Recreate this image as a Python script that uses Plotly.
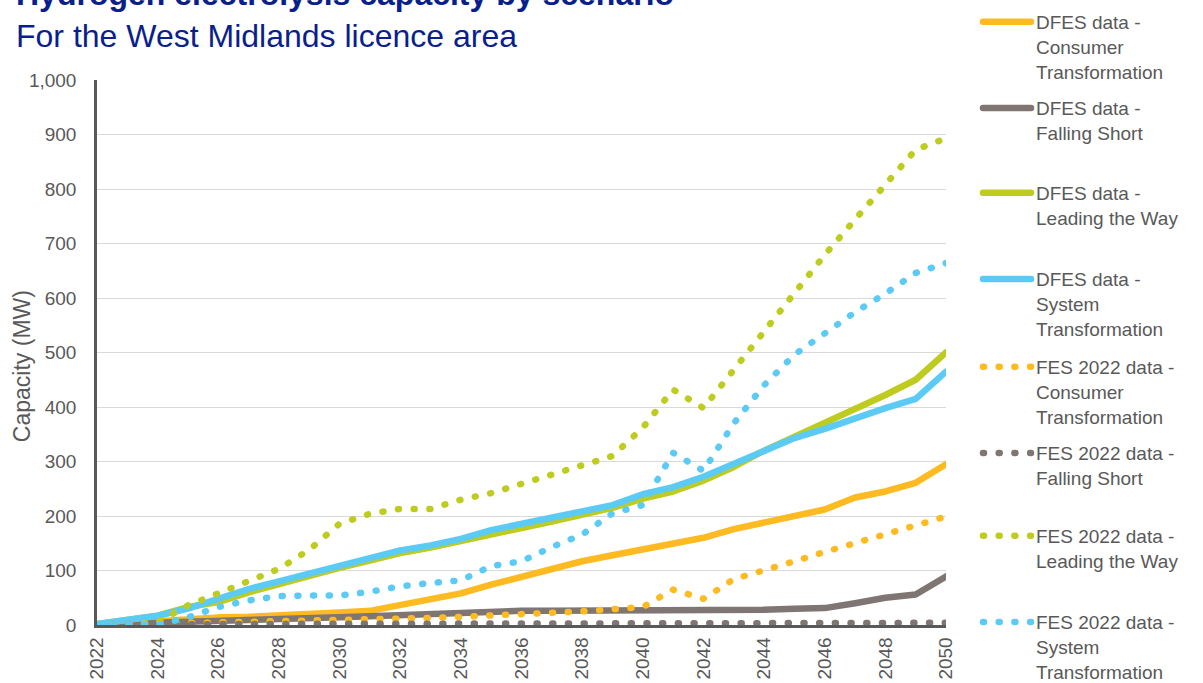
import plotly.graph_objects as go

years = list(range(2022, 2051))

dfes_consumer = [0, 4, 8, 12, 14, 15, 17, 20, 23, 26, 36, 46, 58, 74, 89, 101, 117, 128, 139, 150, 160, 176, 188, 200, 212, 234, 245, 261, 295]
dfes_falling = [0, 1, 4, 6, 7, 8, 10, 12, 14, 16, 18, 20, 22, 25, 26, 26, 26, 26, 27, 27, 27, 27, 28, 30, 31, 40, 50, 56, 89]
dfes_leading = [2, 8, 17, 33, 42, 60, 75, 92, 105, 118, 132, 142, 155, 166, 178, 190, 203, 215, 232, 245, 265, 290, 320, 345, 372, 398, 422, 450, 500]
dfes_system = [2, 9, 17, 30, 48, 66, 80, 95, 109, 125, 137, 146, 158, 174, 185, 197, 210, 220, 240, 253, 272, 296, 322, 343, 360, 380, 398, 415, 465]

fes_consumer = [0, 1, 2, 4, 6, 7, 8, 9, 10, 11, 12, 13, 15, 17, 20, 21, 25, 29, 33, 65, 48, 84, 102, 117, 134, 150, 167, 184, 199]
fes_falling = [0, 1, 1, 2, 2, 2, 2, 2, 3, 3, 3, 3, 3, 3, 3, 3, 3, 3, 3, 3, 3, 3, 3, 3, 3, 3, 3, 3, 4]
fes_leading = [0, 0, 5, 36, 58, 81, 103, 138, 186, 204, 213, 213, 230, 242, 259, 277, 293, 310, 362, 432, 398, 468, 540, 606, 679, 744, 806, 872, 893]
fes_system = [0, 0, 0, 14, 33, 45, 53, 54, 54, 61, 71, 77, 82, 108, 117, 143, 166, 205, 220, 316, 283, 370, 440, 496, 534, 574, 608, 646, 664]

names = [
    "DFES data -<br>Consumer<br>Transformation",
    "DFES data -<br>Falling Short<br>&nbsp;",
    "DFES data -<br>Leading the Way<br>&nbsp;",
    "DFES data -<br>System<br>Transformation",
    "FES 2022 data -<br>Consumer<br>Transformation",
    "FES 2022 data -<br>Falling Short<br>&nbsp;",
    "FES 2022 data -<br>Leading the Way<br>&nbsp;",
    "FES 2022 data -<br>System<br>Transformation",
]
series = [dfes_consumer, dfes_falling, dfes_leading, dfes_system,
          fes_consumer, fes_falling, fes_leading, fes_system]
colors = ["#FDBA21", "#7F7572", "#BDCC1E", "#5BCBF5",
          "#FDBA21", "#7F7572", "#BDCC1E", "#5BCBF5"]
dashes = ["solid"] * 4 + ["1px,14.7px"] * 4
legend_ids = ["legend", "legend", "legend2", "legend2",
              "legend3", "legend3", "legend4", "legend4"]

FONT = "Arial, Liberation Sans, sans-serif"
GREY = "#595959"
NAVY = "#0A1E8C"

fig = go.Figure()
for i, (nm, ys, c, d, lg) in enumerate(zip(names, series, colors, dashes, legend_ids)):
    fig.add_trace(go.Scatter(
        x=years, y=ys, name=nm, mode="lines",
        line=dict(color=c, width=6.5, dash=d),
        legendgroup=f"g{i}", legend=lg, hoverinfo="skip",
    ))

PLOT_TOP, PLOT_H = 80, 545


def legend_cfg(top_px):
    return dict(
        xref="paper", yref="paper",
        x=(978 - 97) / 849, y=(PLOT_TOP + PLOT_H - top_px) / PLOT_H,
        xanchor="left", yanchor="top",
        font=dict(family=FONT, size=19, color=GREY),
        itemwidth=48, valign="top", tracegroupgap=9,
        bgcolor="rgba(0,0,0,0)",
    )


fig.update_layout(
    width=1203, height=683,
    margin=dict(l=97, r=257, t=PLOT_TOP, b=683 - PLOT_TOP - PLOT_H, autoexpand=False),
    paper_bgcolor="white", plot_bgcolor="white",
    font=dict(family=FONT, color=GREY, size=19),
    showlegend=True,
    legend=legend_cfg(3),
    legend2=legend_cfg(174),
    legend3=legend_cfg(348),
    legend4=legend_cfg(517),
    xaxis=dict(
        range=[2022, 2050], tick0=2022, dtick=2, tickangle=-90,
        showgrid=False, zeroline=False, automargin=False,
        showline=True, linecolor=GREY, linewidth=2.5,
        ticks="outside", ticklen=2, tickcolor="rgba(0,0,0,0)",
        tickfont=dict(size=19, color=GREY),
    ),
    yaxis=dict(
        range=[0, 1000], dtick=100, tickformat=",",
        showgrid=True, gridcolor="#D9D9D9", gridwidth=1.3,
        zeroline=False, automargin=False,
        showline=True, linecolor=GREY, linewidth=2.5,
        ticks="outside", ticklen=14, tickcolor="rgba(0,0,0,0)",
        tickfont=dict(size=19, color=GREY),
    ),
    annotations=[
        dict(text="<b>Hydrogen electrolysis capacity by scenario</b>",
             xref="paper", yref="paper", x=-0.098, y=1.158,
             xanchor="left", yanchor="middle", showarrow=False,
             font=dict(family=FONT, size=32, color=NAVY)),
        dict(text="For the West Midlands licence area",
             xref="paper", yref="paper", x=-0.098, y=1.081,
             xanchor="left", yanchor="middle", showarrow=False,
             font=dict(family=FONT, size=32, color=NAVY)),
        dict(text="Capacity (MW)", textangle=-90,
             xref="paper", yref="paper", x=(22 - 97) / 849, y=0.475,
             xanchor="center", yanchor="middle", showarrow=False,
             font=dict(family=FONT, size=23, color=GREY)),
    ],
)

post = ("var s=document.createElement('style');"
        "s.textContent='html,body{margin:0;padding:0}"
        ".js-line{stroke-linecap:round;stroke-linejoin:round}';"
        "document.head.appendChild(s);")
fig.write_html("out.html", post_script=post,
               config={"displayModeBar": False})
